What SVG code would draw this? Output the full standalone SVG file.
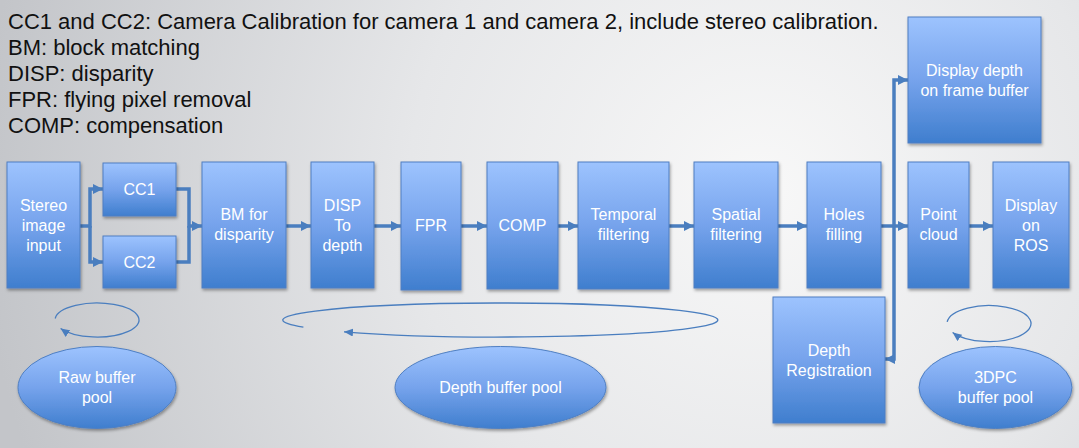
<svg xmlns="http://www.w3.org/2000/svg" width="1079" height="448" viewBox="0 0 1079 448">
<defs>
  <radialGradient id="bg" gradientUnits="userSpaceOnUse" cx="760" cy="190" r="780">
    <stop offset="0" stop-color="#F8F8F8"/>
    <stop offset="0.45" stop-color="#E6E7E9"/>
    <stop offset="1" stop-color="#C3C5C9"/>
  </radialGradient>
  <linearGradient id="fillG" x1="0" y1="0" x2="0" y2="1">
    <stop offset="0" stop-color="#9DC3FE"/>
    <stop offset="0.5" stop-color="#76A3EC"/>
    <stop offset="1" stop-color="#3F7ECE"/>
  </linearGradient>
  <filter id="sh" x="-10%" y="-10%" width="130%" height="130%">
    <feDropShadow dx="1" dy="2" stdDeviation="1.5" flood-color="#000" flood-opacity="0.35"/>
  </filter>
  <marker id="ah" markerUnits="userSpaceOnUse" markerWidth="10" markerHeight="10" refX="10" refY="5" orient="auto">
    <path d="M0,0 L10,5 L0,10 z" fill="#4A7EBF"/>
  </marker>
  <marker id="ahs" markerUnits="userSpaceOnUse" markerWidth="10" markerHeight="8" refX="9" refY="4" orient="auto">
    <path d="M0,0 L9,4 L0,8 z" fill="#4A7EBF"/>
  </marker>
  <style>
    .box { fill: url(#fillG); stroke: #4F7FC2; stroke-width: 1; filter: url(#sh); }
    .lbl { font-family: "Liberation Sans", Arial, sans-serif; font-size: 16px; fill: #FFFFFF; text-anchor: middle; }
    .hdr { font-family: "Liberation Sans", Arial, sans-serif; font-size: 22px; fill: #111111; }
    .con { fill: none; stroke: #4A7EBF; stroke-width: 3.5; }
    .loop { fill: none; stroke: #4A7EBF; stroke-width: 1.3; }
  </style>
</defs>

<rect x="0" y="0" width="1079" height="448" fill="url(#bg)"/>

<g id="legend">
  <text class="hdr" x="8" y="29">CC1 and CC2: Camera Calibration for camera 1 and camera 2, include stereo calibration.</text>
  <text class="hdr" x="8" y="55">BM: block matching</text>
  <text class="hdr" x="8" y="81">DISP: disparity</text>
  <text class="hdr" x="8" y="107">FPR: flying pixel removal</text>
  <text class="hdr" x="8" y="133">COMP: compensation</text>
</g>

<g id="connectors">
  <path class="con" d="M80,226 H90 V189 H103" marker-end="url(#ah)"/>
  <path class="con" d="M90,226 V262 H103" marker-end="url(#ah)"/>
  <path class="con" d="M176,189 H189 V226 H202" marker-end="url(#ah)"/>
  <path class="con" d="M176,262 H189 V226"/>
  <path class="con" d="M286,226 H311" marker-end="url(#ah)"/>
  <path class="con" d="M374,226 H401" marker-end="url(#ah)"/>
  <path class="con" d="M461,226 H487" marker-end="url(#ah)"/>
  <path class="con" d="M558,226 H578" marker-end="url(#ah)"/>
  <path class="con" d="M669,226 H694" marker-end="url(#ah)"/>
  <path class="con" d="M778,226 H807" marker-end="url(#ah)"/>
  <path class="con" d="M881,226 H908" marker-end="url(#ah)"/>
  <path class="con" d="M894,226 V80 H908" marker-end="url(#ah)"/>
  <path class="con" d="M894,226 V359 H885" marker-end="url(#ah)"/>
  <path class="con" d="M969,226 H993" marker-end="url(#ah)"/>
  <path class="loop" d="M55.2,318.5 A42,17 0 1 1 60.6,328.5" marker-end="url(#ahs)"/>
  <path class="loop" d="M303.4,327.2 A217.5,17 0 1 1 344,331.8" marker-end="url(#ahs)"/>
  <path class="loop" d="M947.2,321.9 A42,18 0 1 1 952.6,332.5" marker-end="url(#ahs)"/>
</g>

<g id="stereo">
  <rect class="box" x="7" y="162" width="73" height="126"/>
  <text class="lbl" x="43.5" y="211">Stereo</text>
  <text class="lbl" x="43.5" y="231">image</text>
  <text class="lbl" x="43.5" y="251">input</text>
</g>
<g id="cc1">
  <rect class="box" x="103" y="163" width="73" height="53"/>
  <text class="lbl" x="139.5" y="195">CC1</text>
</g>
<g id="cc2">
  <rect class="box" x="103" y="236" width="73" height="52"/>
  <text class="lbl" x="139.5" y="268">CC2</text>
</g>
<g id="bm">
  <rect class="box" x="202" y="162" width="84" height="126"/>
  <text class="lbl" x="244" y="220">BM for</text>
  <text class="lbl" x="244" y="240">disparity</text>
</g>
<g id="disp">
  <rect class="box" x="311" y="162" width="63" height="126"/>
  <text class="lbl" x="342.5" y="211">DISP</text>
  <text class="lbl" x="342.5" y="231">To</text>
  <text class="lbl" x="342.5" y="251">depth</text>
</g>
<g id="fpr">
  <rect class="box" x="401" y="162" width="60" height="128"/>
  <text class="lbl" x="431" y="231">FPR</text>
</g>
<g id="comp">
  <rect class="box" x="487" y="162" width="71" height="127"/>
  <text class="lbl" x="522.5" y="231">COMP</text>
</g>
<g id="temporal">
  <rect class="box" x="578" y="162" width="91" height="127"/>
  <text class="lbl" x="623.5" y="220">Temporal</text>
  <text class="lbl" x="623.5" y="240">filtering</text>
</g>
<g id="spatial">
  <rect class="box" x="694" y="162" width="84" height="126"/>
  <text class="lbl" x="736" y="220">Spatial</text>
  <text class="lbl" x="736" y="240">filtering</text>
</g>
<g id="holes">
  <rect class="box" x="807" y="162" width="74" height="126"/>
  <text class="lbl" x="844" y="220">Holes</text>
  <text class="lbl" x="844" y="240">filling</text>
</g>
<g id="pointcloud">
  <rect class="box" x="908" y="162" width="61" height="126"/>
  <text class="lbl" x="938.5" y="220">Point</text>
  <text class="lbl" x="938.5" y="240">cloud</text>
</g>
<g id="ros">
  <rect class="box" x="993" y="162" width="76" height="126"/>
  <text class="lbl" x="1031" y="211">Display</text>
  <text class="lbl" x="1031" y="231">on</text>
  <text class="lbl" x="1031" y="251">ROS</text>
</g>
<g id="framebuffer">
  <rect class="box" x="908" y="17" width="133" height="126"/>
  <text class="lbl" x="974.5" y="76">Display depth</text>
  <text class="lbl" x="974.5" y="96">on frame buffer</text>
</g>
<g id="registration">
  <rect class="box" x="773" y="297" width="112" height="126"/>
  <text class="lbl" x="829" y="356">Depth</text>
  <text class="lbl" x="829" y="376">Registration</text>
</g>
<g id="rawpool">
  <ellipse class="box" cx="97" cy="387.5" rx="79" ry="41"/>
  <text class="lbl" x="97" y="383">Raw buffer</text>
  <text class="lbl" x="97" y="403">pool</text>
</g>
<g id="depthpool">
  <ellipse class="box" cx="500.5" cy="387.5" rx="105.5" ry="41"/>
  <text class="lbl" x="500.5" y="393">Depth buffer pool</text>
</g>
<g id="pcpool">
  <ellipse class="box" cx="995.5" cy="387.5" rx="76.5" ry="41"/>
  <text class="lbl" x="995.5" y="383">3DPC</text>
  <text class="lbl" x="995.5" y="403">buffer pool</text>
</g>
</svg>
